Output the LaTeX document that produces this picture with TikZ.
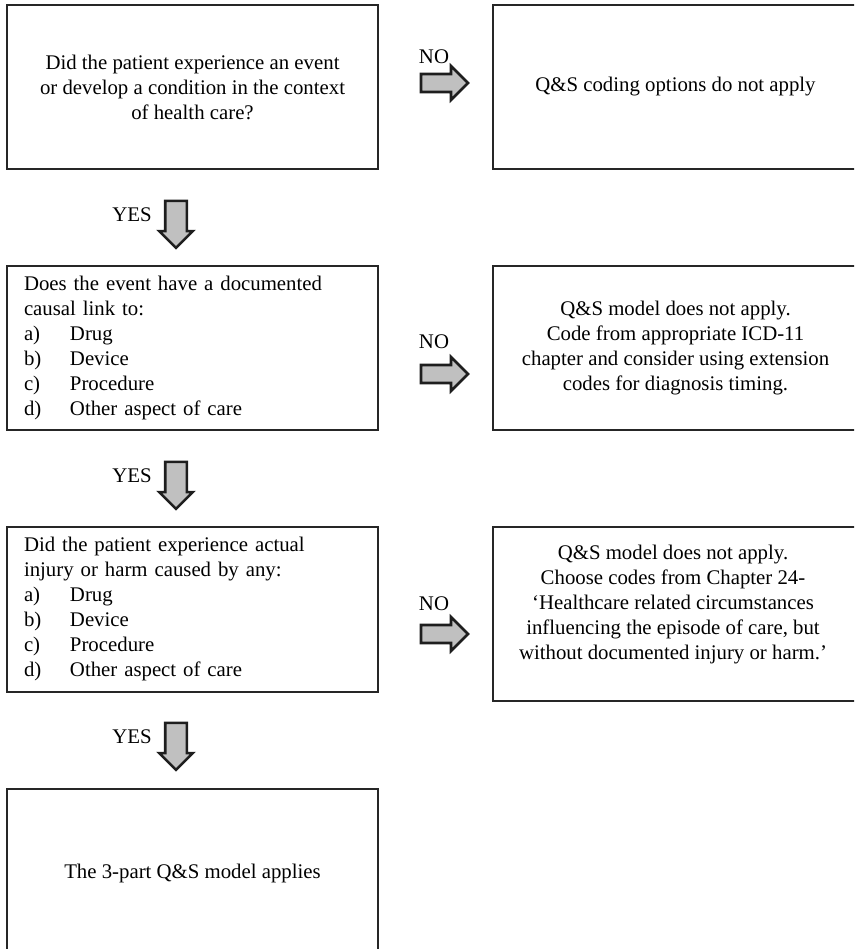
\documentclass[tikz,border=0pt]{standalone}
\usepackage{fontspec}
\setmainfont{Liberation Serif}
\usetikzlibrary{shapes.arrows}
\definecolor{framec}{HTML}{262626}
\definecolor{arrowfill}{HTML}{C0C0C0}
\definecolor{arrowline}{HTML}{1E1E1E}
\newcommand\qsfont{\fontsize{20.8}{25}\selectfont}
\newcommand\itm[2]{\makebox[46pt][l]{#1}#2}
\begin{document}
\begin{tikzpicture}[x=1pt,y=1pt,
  box/.style={draw=framec, line width=2.4pt, rectangle, inner sep=0pt,
    minimum width=371pt, minimum height=164pt, align=center, font=\qsfont},
  rbox/.style={box, minimum width=365pt},
  listbox/.style={box, text width=337pt, align=left},
  txt/.style={inner sep=0pt, align=center, font=\qsfont},
  blockarrow/.style={single arrow, draw=arrowline, fill=arrowfill,
    line width=2.6pt, inner sep=0pt, inner ysep=7.7pt, minimum height=47pt,
    minimum width=0pt, single arrow head extend=8pt},
  yesarrow/.style={blockarrow, shape border rotate=270, inner ysep=0pt,
    inner xsep=9.5pt, single arrow head extend=6pt},
  tag/.style={inner sep=0pt, font=\qsfont}]
\useasboundingbox (0,0) rectangle (854,949);
\clip (0,0) rectangle (854,949);

% question boxes (left column)
\node[box] (q1) at (192.5,862) {Did the patient experience an event\\or develop a condition in the context\\of health care?};
\node[listbox] (q2) at (192.5,601) {Does the event have a documented\\causal link to:\\
  \itm{a)}{Drug}\\\itm{b)}{Device}\\\itm{c)}{Procedure}\\\itm{d)}{Other aspect of care}};
\node[listbox, minimum height=165pt] (q3) at (192.5,339.5) {Did the patient experience actual\\injury or harm caused by any:\\
  \itm{a)}{Drug}\\\itm{b)}{Device}\\\itm{c)}{Procedure}\\\itm{d)}{Other aspect of care}};
\node[box, minimum height=168pt] (q4) at (192.5,76) {The 3-part Q\&S model applies};

% outcome boxes (right column)
\node[rbox] (r1) at (675.5,862) {Q\&S coding options do not apply};
\node[rbox] (r2) at (675.5,601) {Q\&S model does not apply.\\Code from appropriate ICD-11\\chapter and consider using extension\\codes for diagnosis timing.};
\node[rbox, minimum height=174pt] (r3) at (675.5,335) {};
\node[txt] (r3text) at (673,344) {Q\&S model does not apply.\\Choose codes from Chapter 24-\\`Healthcare related circumstances\\influencing the episode of care, but\\without documented injury or harm.'};

% NO branches
\node[blockarrow] (no1) at (440,866) {};
\node[tag] (no1l) at (434,892) {NO};
\node[blockarrow] (no2) at (440,575) {};
\node[tag] (no2l) at (434,607) {NO};
\node[blockarrow] (no3) at (440,315) {};
\node[tag] (no3l) at (434,345) {NO};

% YES branches
\node[yesarrow] (yes1) at (176,730) {};
\node[tag] (yes1l) at (132,734) {YES};
\node[yesarrow] (yes2) at (176,469) {};
\node[tag] (yes2l) at (132,473) {YES};
\node[yesarrow] (yes3) at (176,208) {};
\node[tag] (yes3l) at (132,212) {YES};
\end{tikzpicture}
\end{document}
